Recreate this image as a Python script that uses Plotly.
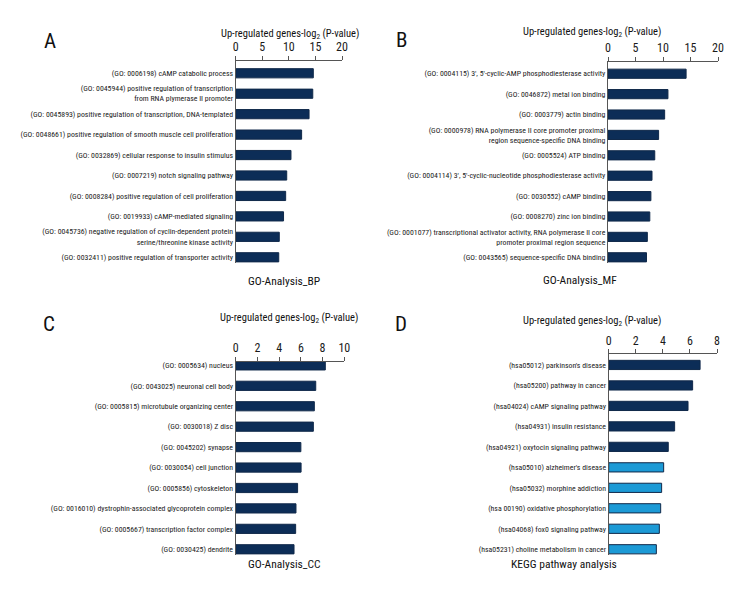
import plotly.graph_objects as go

# ---------------- data ----------------
bp_terms = [
    "(GO: 0006198) cAMP catabolic process",
    "(GO: 0045944) positive regulation of transcription<br>from RNA plymerase II promoter",
    "(GO: 0045893) positive regulation of transcription, DNA-templated",
    "(GO: 0048661) positive regulation of smooth muscle cell proliferation",
    "(GO: 0032869) cellular response to insulin stimulus",
    "(GO: 0007219) notch signaling pathway",
    "(GO: 0008284) positive regulation of cell proliferation",
    "(GO: 0019933) cAMP-mediated signaling",
    "(GO: 0045736) negative regulation of cyclin-dependent protein<br>serine/threonine kinase activity",
    "(GO: 0032411) positive regulation of transporter activity",
]
bp_values = [14.6, 14.5, 13.8, 12.4, 10.4, 9.6, 9.4, 9.0, 8.2, 8.1]

mf_terms = [
    "(GO: 0004115) 3', 5'-cyclic-AMP phosphodiesterase activity",
    "(GO: 0046872) metal ion binding",
    "(GO: 0003779) actin binding",
    "(GO: 0000978) RNA polymerase II core promoter proximal<br>region sequence-specific DNA binding",
    "(GO: 0005524) ATP binding",
    "(GO: 0004114) 3', 5'-cyclic-nucleotide phosphodiesterase activity",
    "(GO: 0030552) cAMP binding",
    "(GO: 0008270) zinc ion binding",
    "(GO: 0001077) transcriptional activator activity, RNA polymerase II core<br>promoter proximal region sequence",
    "(GO: 0043565) sequence-specific DNA binding",
]
mf_values = [14.2, 10.9, 10.3, 9.2, 8.5, 8.0, 7.8, 7.6, 7.15, 7.0]

cc_terms = [
    "(GO: 0005634) nucleus",
    "(GO: 0043025) neuronal cell body",
    "(GO: 0005815) microtubule organizing center",
    "(GO: 0030018) Z disc",
    "(GO: 0045202) synapse",
    "(GO: 0030054) cell junction",
    "(GO: 0005856) cytoskeleton",
    "(GO: 0016010) dystrophin-associated glycoprotein complex",
    "(GO: 0005667) transcription factor complex",
    "(GO: 0030425) dendrite",
]
cc_values = [8.25, 7.37, 7.24, 7.15, 6.0, 6.02, 5.7, 5.55, 5.52, 5.37]

kegg_terms = [
    "(hsa05012) parkinson's disease",
    "(hsa05200) pathway in cancer",
    "(hsa04024) cAMP signaling pathway",
    "(hsa04931) insulin resistance",
    "(hsa04921) oxytocin signaling pathway",
    "(hsa05010) alzheimer's disease",
    "(hsa05032) morphine addiction",
    "(hsa 00190) oxidative phosphorylation",
    "(hsa04068) fox0 signaling pathway",
    "(hsa05231) choline metabolism in cancer",
]
kegg_values = [6.75, 6.2, 5.86, 4.87, 4.4, 4.06, 3.91, 3.84, 3.74, 3.52]
kegg_group = ["dark"] * 5 + ["light"] * 5

panel_letters = ["A", "B", "C", "D"]
panel_names = ["GO-Analysis_BP", "GO-Analysis_MF", "GO-Analysis_CC", "KEGG pathway analysis"]
axis_title = "Up-regulated genes-log<sub>2</sub> (P-value)"

# ---------------- style ----------------
NAVY = "#0c2d57"
LIGHT = "#1c9ad6"
EDGE = "#10294a"
FONT = "Roboto Condensed, Liberation Sans, sans-serif"
W, H = 756, 600

panels = [
    dict(terms=bp_terms, vals=bp_values, colors=[NAVY] * 10, xr=[0, 20], dt=5,
         xd=[235.7, 342.0], yd=[61.0, 263.0], yr=[9.28, -0.6]),
    dict(terms=mf_terms, vals=mf_values, colors=[NAVY] * 10, xr=[0, 20], dt=5,
         xd=[608.0, 718.0], yd=[61.5, 263.0], yr=[9.28, -0.6]),
    dict(terms=cc_terms, vals=cc_values, colors=[NAVY] * 10, xr=[0, 10], dt=2,
         xd=[235.7, 344.3], yd=[361.7, 555.0], yr=[9.28, -0.18]),
    dict(terms=kegg_terms, vals=kegg_values,
         colors=[NAVY if g == "dark" else LIGHT for g in kegg_group], xr=[0, 8], dt=2,
         xd=[608.7, 717.0], yd=[354.3, 555.0], yr=[9.28, -0.52]),
]

fig = go.Figure()
layout = dict(
    template="none",
    width=W, height=H,
    margin=dict(l=0, r=0, t=0, b=0, autoexpand=False),
    paper_bgcolor="white", plot_bgcolor="white",
    showlegend=False,
    font=dict(family=FONT, color="#1a1a1a"),
)

annotations = []
for i, p in enumerate(panels):
    n = "" if i == 0 else str(i + 1)
    fig.add_trace(go.Bar(
        x=p["vals"], y=p["terms"], orientation="h",
        marker=dict(color=p["colors"], line=dict(color=EDGE, width=1)),
        width=0.45, xaxis="x" + n, yaxis="y" + n, hoverinfo="x+y",
    ))
    layout["xaxis" + n] = dict(
        domain=[p["xd"][0] / W, p["xd"][1] / W], range=p["xr"], dtick=p["dt"],
        side="top", anchor="y" + n, showgrid=False, zeroline=False, automargin=False,
        showline=True, linecolor="#555", linewidth=1,
        ticks="outside", ticklen=4, tickcolor="#555", tickwidth=1,
        tickfont=dict(size=12, family=FONT, color="#1a1a1a"), fixedrange=True,
    )
    layout["yaxis" + n] = dict(
        domain=[1 - p["yd"][1] / H, 1 - p["yd"][0] / H], range=p["yr"],
        type="category", anchor="x" + n, showgrid=False, zeroline=False, automargin=False,
        showline=True, linecolor="#555", linewidth=1.2, ticks="",
        tickfont=dict(size=7.8, family=FONT, color="#222"), fixedrange=True,
    )

# panel letters, axis titles and panel names (pixel positions)
letter_pos = [(42, 27), (401, 26), (41, 324), (401, 324)]
title_pos = [(289.5, 25), (663, 23), (289, 318), (663, 321)]
name_pos = [(246, 281), (619, 280), (246, 573), (619, 573)]
for i in range(4):
    lx, ly = letter_pos[i]
    annotations.append(dict(x=lx / W, y=1 - ly / H, xref="paper", yref="paper",
                            text=panel_letters[i], showarrow=False,
                            font=dict(size=21, family=FONT, color="#111")))
    tx, ty = title_pos[i]
    annotations.append(dict(x=tx / W, y=1 - ty / H, xref="paper", yref="paper",
                            text=axis_title, showarrow=False,
                            font=dict(size=10.5, family=FONT, color="#111")))
    nx, ny = name_pos[i]
    annotations.append(dict(x=nx / W, y=1 - ny / H, xref="paper", yref="paper",
                            text=panel_names[i], showarrow=False,
                            font=dict(size=11.5, family=FONT, color="#111")))

layout["annotations"] = annotations
fig.update_layout(**layout)
fig.write_html("out.html", config={"displayModeBar": False},
               post_script="document.body.style.margin='0px';document.body.style.padding='0px';")
